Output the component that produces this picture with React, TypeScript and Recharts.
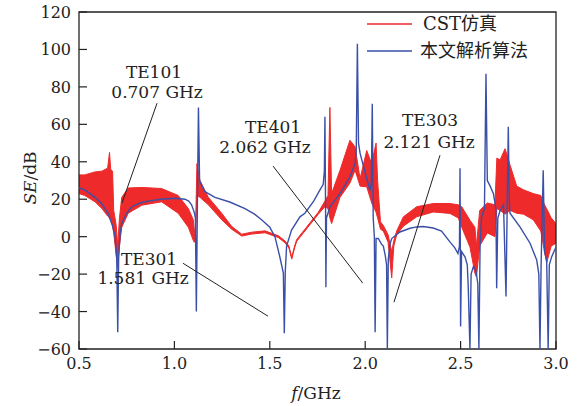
import { ComposedChart, Area, Line, XAxis, YAxis, ReferenceArea, ReferenceLine, ReferenceDot } from 'recharts'

// CST simulation: dense oscillation drawn as a min/max band
const redFreq = [
  0.5, 0.53, 0.584, 0.62, 0.65, 0.66, 0.666, 0.676, 0.682, 0.695, 0.703, 0.712, 0.724, 0.758, 0.829, 0.933,
  1.02, 1.073, 1.099, 1.104, 1.11, 1.118, 1.134, 1.178, 1.248, 1.3, 1.353, 1.405, 1.475, 1.545, 1.58, 1.6,
  1.615, 1.63, 1.641, 1.684, 1.754, 1.789, 1.805, 1.815, 1.824, 1.868, 1.92, 1.947, 1.973, 2.008, 2.034,
  2.057, 2.065, 2.08, 2.095, 2.12, 2.139, 2.15, 2.165, 2.2, 2.27, 2.357, 2.444, 2.488, 2.506, 2.549, 2.575,
  2.583, 2.6, 2.64, 2.68, 2.69, 2.707, 2.733, 2.76, 2.794, 2.83, 2.881, 2.92, 2.94, 2.951, 2.975, 3.0,
]
const redLow = [
  23, 22, 18.6, 15, 11, 10, 9, 6, 2, -10, -17, -5, 5, 12.5, 16.8, 18.6,
  12.5, 5, -2, -3, -2, 22, 21, 17, 9, 4, 0.3, 1.4, 2.1, -0.5, -3.3, -6,
  -12, -6, -2.5, 3, 12, 16, 15, 10, 7, 21, 28.6, 35.5, 27, 26.6, 18,
  13, 10, 4, 3, -3, -22, -5, 1, 5.6, 10.6, 13.2, 12.4, 10, 5, -5.5, -19.5,
  -21.5, -5, 2, 0, 15, 14, 12, 14, 12.5, 12, 9, 3, -8, -14, -5, -3.5,
]
const redHigh = [
  33, 33, 34.6, 35, 36.6, 45, 36, 35, 14, 6, -5, 10, 21, 26, 26.3, 25.7,
  22, 15, 9, 4, 0, 39, 30, 21, 12.5, 5.5, 1.3, 2.4, 3.1, 0.5, -2.3, -5,
  -11, -5, -1.5, 4, 13, 19, 22, 69, 23, 35.5, 51.5, 48, 31, 46, 39,
  50, 30, 8, 6, 1, -8, -2, 3, 10.6, 16, 17.7, 17.7, 17, 16, 8.8, 5,
  -5, 14, 18, 17, 42, 41, 47, 38, 27, 25, 23, 22, 17, 15, 10, 7,
]

// analytical model
const blueFreq = [
  0.5, 0.53, 0.584, 0.62, 0.652, 0.675, 0.689, 0.698, 0.703, 0.708, 0.716, 0.724, 0.75, 0.776, 0.82, 0.862,
  0.93, 1.003, 1.055, 1.075, 1.09, 1.104, 1.11, 1.115, 1.12, 1.126, 1.132, 1.145, 1.16, 1.213, 1.29, 1.37,
  1.42, 1.457, 1.5, 1.527, 1.553, 1.571, 1.576, 1.581, 1.588, 1.614, 1.658, 1.684, 1.73, 1.763, 1.78, 1.786,
  1.789, 1.792, 1.794, 1.797, 1.815, 1.868, 1.92, 1.947, 1.953, 1.959, 1.965, 1.973, 2.0, 2.025, 2.032, 2.037,
  2.042, 2.048, 2.052, 2.057, 2.069, 2.085, 2.095, 2.105, 2.112, 2.116, 2.121, 2.13, 2.139, 2.182, 2.235, 2.27,
  2.303, 2.357, 2.4, 2.444, 2.47, 2.486, 2.494, 2.497, 2.5, 2.505, 2.523, 2.535, 2.54, 2.549, 2.555, 2.567,
  2.58, 2.59, 2.596, 2.602, 2.61, 2.625, 2.633, 2.64, 2.655, 2.672, 2.685, 2.689, 2.695, 2.707, 2.725, 2.738,
  2.744, 2.75, 2.755, 2.759, 2.811, 2.864, 2.899, 2.91, 2.916, 2.922, 2.933, 2.94, 2.951, 2.959, 2.965, 2.977, 3.0,
]
const blueSE = [
  26, 25, 21, 17.5, 12.5, 6, 0, -12, -51, -10, 2, 7, 12.5, 16, 18, 19,
  20, 20.5, 20, 19, 17, 13, 10, -40, 12, 69, 30, 27, 24, 21, 18.5, 15,
  12, 9, 5, 0, -11, -19.5, -51.6, -19, -5, 3.5, 10.6, 12.5, 19, 25, 28, 35,
  64, 20, -27, 10, 16, 23, 32, 39, 45, 103, 50, 44.6, 34, 25, 28, 71,
  10, 0, -51, -1, -1, -4, -5, -10, -15, -60, -12, -4, -1, 2.5, 4.5, 5.2,
  5.4, 4.6, 3, -2.8, -6, -9, -5, 36.6, -48, -8, -10.8, -15, -26.8, -60, -20, -16,
  -18, -25, -60, -5, 10.6, 15, 87, 30, 27, 23, 15, -27.5, 10, 14, 17, -32,
  15, 58.7, 20, 12.5, 5.2, -3.5, -12.5, -20, -60, -15, 35.5, -8, -12.5, -60, -15, -10.8, -5.5,
]

const xTicks = [0.5, 1.0, 1.5, 2.0, 2.5, 3.0]
const yTicks = [-60, -40, -20, 0, 20, 40, 60, 80, 100, 120]

// legend: latin part + chinese part
const seriesNames = [
  ['CST', '仿真'],
  ['', '本文解析算法'],
]

// mode labels, positions in data units
const modeNotes = [
  { title: 'TE101', freq: '0.707 GHz', tx: 0.893, ty: 87.9, fx: 0.909, fy: 77.2, line: [0.909, 71.3, 0.725, 17.9] },
  { title: 'TE401', freq: '2.062 GHz', tx: 1.517, ty: 58.5, fx: 1.475, fy: 47.8, line: [1.517, 37.7, 1.987, -24.8] },
  { title: 'TE303', freq: '2.121 GHz', tx: 2.34, ty: 62.2, fx: 2.335, fy: 50.6, line: [2.392, 43.5, 2.151, -35] },
  { title: 'TE301', freq: '1.581 GHz', tx: 0.867, ty: -12, fx: 0.836, fy: -22.2, line: [1.045, -14.2, 1.491, -42.5] },
]

const RED = '#EE2A2A'
const BLUE = '#3A50A8'
const INK = '#222'
const SERIF = '"DejaVu Serif", serif'
const CJK = '"Noto Sans CJK SC", sans-serif'

const PLOT_LEFT = 79
const PLOT_BOTTOM = 349

const redData = redFreq.map((f, i) => ({ f, band: [redLow[i], redHigh[i]] }))
const blueData = blueFreq.map((f, i) => ({ f, se: blueSE[i] }))

const fmtY = (v: number) => (v < 0 ? `\u2212${-v}` : `${v}`)

function XTick(props: any) {
  const { x, payload } = props
  return (
    <g>
      <line x1={x} x2={x} y1={PLOT_BOTTOM} y2={PLOT_BOTTOM - 8} stroke={INK} strokeWidth={1.2} />
      <text x={x} y={369} textAnchor="middle" fontSize={16} fontFamily={SERIF} fill={INK}>
        {Number(payload.value).toFixed(1)}
      </text>
    </g>
  )
}

function YTick(props: any) {
  const { y, payload } = props
  return (
    <g>
      <line x1={PLOT_LEFT} x2={PLOT_LEFT + 8} y1={y} y2={y} stroke={INK} strokeWidth={1.2} />
      <text x={71} y={y + 6} textAnchor="end" fontSize={16} fontFamily={SERIF} fill={INK}>
        {fmtY(payload.value)}
      </text>
    </g>
  )
}

const noteLabel = (value: string) => ({
  value,
  position: 'center' as const,
  fill: INK,
  fontSize: 17,
  fontFamily: SERIF,
})

export default function App() {
  return (
    <div style={{ position: 'absolute', left: 0, top: 0, width: 584, height: 406, background: '#fff' }}>
      <ComposedChart width={584} height={406} margin={{ top: 12, right: 28, bottom: 27, left: 0 }}>
        <XAxis
          dataKey="f"
          type="number"
          domain={[0.5, 3]}
          ticks={xTicks}
          height={30}
          axisLine={false}
          tickLine={false}
          tick={<XTick />}
          allowDataOverflow
          label={{
            content: () => (
              <text x={316} y={399} textAnchor="middle" fontSize={17} fontFamily={SERIF} fill={INK}>
                <tspan fontStyle="italic">f</tspan>/GHz
              </text>
            ),
          }}
        />
        <YAxis
          type="number"
          domain={[-60, 120]}
          ticks={yTicks}
          width={79}
          axisLine={false}
          tickLine={false}
          tick={<YTick />}
          allowDataOverflow
          label={{
            content: () => (
              <text
                x={36}
                y={178}
                transform="rotate(-90 36 178)"
                textAnchor="middle"
                fontSize={17}
                fontFamily={SERIF}
                fill={INK}
              >
                <tspan fontStyle="italic">SE</tspan>/dB
              </text>
            ),
          }}
        />

        <Area
          data={redData}
          dataKey="band"
          type="linear"
          stroke={RED}
          strokeWidth={1}
          fill={RED}
          fillOpacity={1}
          isAnimationActive={false}
          name={seriesNames[0].join('')}
        />
        <Line
          data={blueData}
          dataKey="se"
          type="linear"
          stroke={BLUE}
          strokeWidth={1.4}
          dot={false}
          isAnimationActive={false}
          name={seriesNames[1].join('')}
        />

        {modeNotes.map((n) => (
          <ReferenceLine
            key={n.title + '-line'}
            segment={[
              { x: n.line[0], y: n.line[1] },
              { x: n.line[2], y: n.line[3] },
            ]}
            stroke={INK}
            strokeWidth={1}
          />
        ))}
        {modeNotes.map((n) => (
          <ReferenceDot key={n.title} x={n.tx} y={n.ty} r={0} fill="none" stroke="none" label={noteLabel(n.title)} />
        ))}
        {modeNotes.map((n) => (
          <ReferenceDot key={n.freq} x={n.fx} y={n.fy} r={0} fill="none" stroke="none" label={noteLabel(n.freq)} />
        ))}

        <ReferenceArea x1={0.5} x2={3} y1={-60} y2={120} fill="none" stroke={INK} strokeWidth={1.3} fillOpacity={0} />
      </ComposedChart>

      <svg width={220} height={70} style={{ position: 'absolute', left: 360, top: 6 }}>
        <line x1={7} x2={52} y1={18} y2={18} stroke={RED} strokeWidth={1.4} />
        <text x={63} y={24} fontSize={18} fill={INK}>
          <tspan fontFamily={SERIF}>{seriesNames[0][0]}</tspan>
          <tspan fontFamily={CJK}>{seriesNames[0][1]}</tspan>
        </text>
        <line x1={7} x2={52} y1={45} y2={45} stroke={BLUE} strokeWidth={1.4} />
        <text x={60} y={51} fontSize={18} fill={INK} fontFamily={CJK}>
          {seriesNames[1][1]}
        </text>
      </svg>
    </div>
  )
}
